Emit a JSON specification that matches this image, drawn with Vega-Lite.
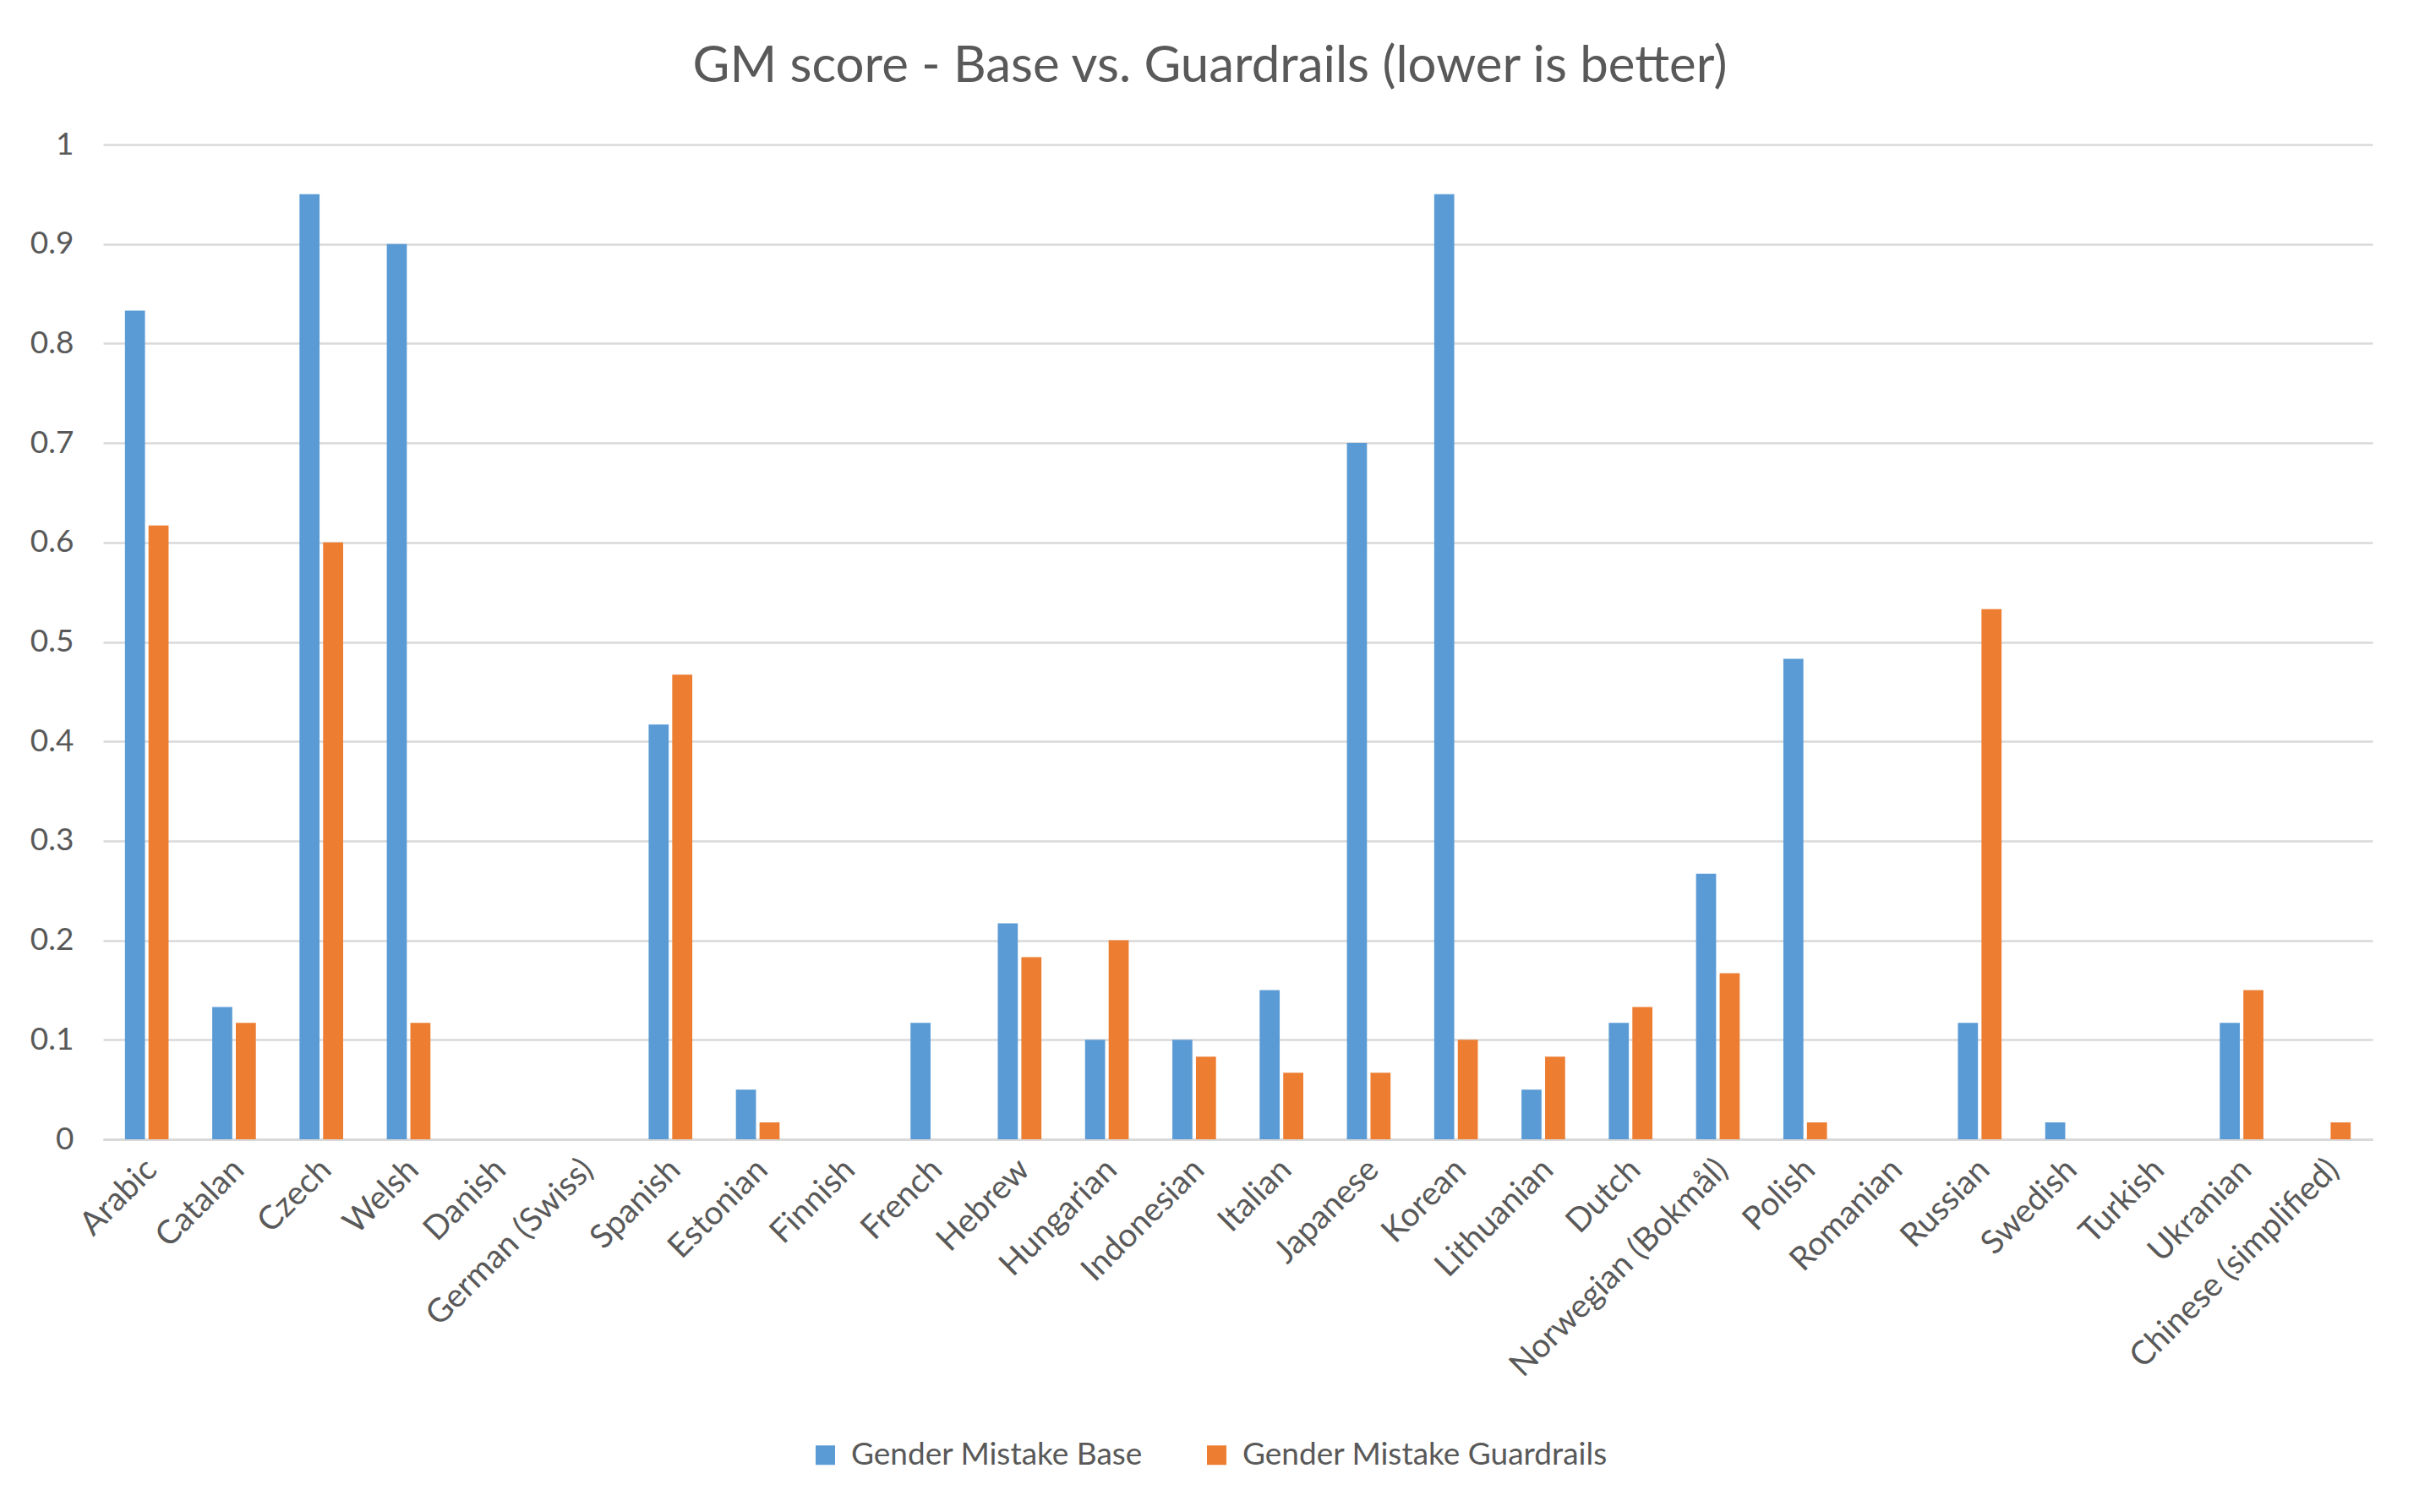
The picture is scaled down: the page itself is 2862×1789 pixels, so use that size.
{
  "$schema": "https://vega.github.io/schema/vega-lite/v6.json",
  "autosize": {"type": "none"},
  "padding": {"left": 122, "top": 171, "right": 55, "bottom": 441},
  "width": 2685,
  "height": 1177,
  "background": "#ffffff",
  "title": {
    "text": "GM score - Base vs. Guardrails (lower is better)",
    "font": "Lato",
    "fontSize": 60,
    "fontWeight": "normal",
    "color": "#595959",
    "anchor": "middle",
    "frame": "group",
    "dx": -33,
    "baseline": "alphabetic",
    "offset": -5
  },
  "data": {
    "values": [
      {"language": "Arabic", "series": "Gender Mistake Base", "score": 0.833},
      {"language": "Arabic", "series": "Gender Mistake Guardrails", "score": 0.617},
      {"language": "Catalan", "series": "Gender Mistake Base", "score": 0.133},
      {"language": "Catalan", "series": "Gender Mistake Guardrails", "score": 0.117},
      {"language": "Czech", "series": "Gender Mistake Base", "score": 0.95},
      {"language": "Czech", "series": "Gender Mistake Guardrails", "score": 0.6},
      {"language": "Welsh", "series": "Gender Mistake Base", "score": 0.9},
      {"language": "Welsh", "series": "Gender Mistake Guardrails", "score": 0.117},
      {"language": "Danish", "series": "Gender Mistake Base", "score": 0},
      {"language": "Danish", "series": "Gender Mistake Guardrails", "score": 0},
      {"language": "German (Swiss)", "series": "Gender Mistake Base", "score": 0},
      {"language": "German (Swiss)", "series": "Gender Mistake Guardrails", "score": 0},
      {"language": "Spanish", "series": "Gender Mistake Base", "score": 0.417},
      {"language": "Spanish", "series": "Gender Mistake Guardrails", "score": 0.467},
      {"language": "Estonian", "series": "Gender Mistake Base", "score": 0.05},
      {"language": "Estonian", "series": "Gender Mistake Guardrails", "score": 0.017},
      {"language": "Finnish", "series": "Gender Mistake Base", "score": 0},
      {"language": "Finnish", "series": "Gender Mistake Guardrails", "score": 0},
      {"language": "French", "series": "Gender Mistake Base", "score": 0.117},
      {"language": "French", "series": "Gender Mistake Guardrails", "score": 0},
      {"language": "Hebrew", "series": "Gender Mistake Base", "score": 0.217},
      {"language": "Hebrew", "series": "Gender Mistake Guardrails", "score": 0.183},
      {"language": "Hungarian", "series": "Gender Mistake Base", "score": 0.1},
      {"language": "Hungarian", "series": "Gender Mistake Guardrails", "score": 0.2},
      {"language": "Indonesian", "series": "Gender Mistake Base", "score": 0.1},
      {"language": "Indonesian", "series": "Gender Mistake Guardrails", "score": 0.083},
      {"language": "Italian", "series": "Gender Mistake Base", "score": 0.15},
      {"language": "Italian", "series": "Gender Mistake Guardrails", "score": 0.067},
      {"language": "Japanese", "series": "Gender Mistake Base", "score": 0.7},
      {"language": "Japanese", "series": "Gender Mistake Guardrails", "score": 0.067},
      {"language": "Korean", "series": "Gender Mistake Base", "score": 0.95},
      {"language": "Korean", "series": "Gender Mistake Guardrails", "score": 0.1},
      {"language": "Lithuanian", "series": "Gender Mistake Base", "score": 0.05},
      {"language": "Lithuanian", "series": "Gender Mistake Guardrails", "score": 0.083},
      {"language": "Dutch", "series": "Gender Mistake Base", "score": 0.117},
      {"language": "Dutch", "series": "Gender Mistake Guardrails", "score": 0.133},
      {"language": "Norwegian (Bokmål)", "series": "Gender Mistake Base", "score": 0.267},
      {"language": "Norwegian (Bokmål)", "series": "Gender Mistake Guardrails", "score": 0.167},
      {"language": "Polish", "series": "Gender Mistake Base", "score": 0.483},
      {"language": "Polish", "series": "Gender Mistake Guardrails", "score": 0.017},
      {"language": "Romanian", "series": "Gender Mistake Base", "score": 0},
      {"language": "Romanian", "series": "Gender Mistake Guardrails", "score": 0},
      {"language": "Russian", "series": "Gender Mistake Base", "score": 0.117},
      {"language": "Russian", "series": "Gender Mistake Guardrails", "score": 0.533},
      {"language": "Swedish", "series": "Gender Mistake Base", "score": 0.017},
      {"language": "Swedish", "series": "Gender Mistake Guardrails", "score": 0},
      {"language": "Turkish", "series": "Gender Mistake Base", "score": 0},
      {"language": "Turkish", "series": "Gender Mistake Guardrails", "score": 0},
      {"language": "Ukranian", "series": "Gender Mistake Base", "score": 0.117},
      {"language": "Ukranian", "series": "Gender Mistake Guardrails", "score": 0.15},
      {"language": "Chinese (simplified)", "series": "Gender Mistake Base", "score": 0},
      {"language": "Chinese (simplified)", "series": "Gender Mistake Guardrails", "score": 0.017}
    ]
  },
  "mark": {"type": "bar"},
  "encoding": {
    "x": {
      "field": "language",
      "type": "nominal",
      "sort": null,
      "scale": {"paddingInner": 0.5, "paddingOuter": 0.25},
      "axis": {
        "title": null,
        "labelAngle": -45,
        "labelAlign": "right",
        "labelBaseline": "top",
        "labelPadding": 16,
        "labelOffset": -8,
        "labelFont": "Lato",
        "labelFontSize": 39,
        "labelColor": "#595959",
        "labelLimit": 1000,
        "ticks": false,
        "domainColor": "#D9D9D9",
        "domainWidth": 3,
        "grid": false
      }
    },
    "xOffset": {
      "field": "series",
      "type": "nominal",
      "scale": {"paddingInner": 0.15}
    },
    "y": {
      "field": "score",
      "type": "quantitative",
      "scale": {"domain": [0, 1], "nice": false},
      "axis": {
        "title": null,
        "values": [0, 0.1, 0.2, 0.3, 0.4, 0.5, 0.6, 0.7, 0.8, 0.9, 1],
        "format": "~g",
        "domain": false,
        "ticks": false,
        "grid": true,
        "gridColor": "#D9D9D9",
        "gridWidth": 2.5,
        "labelPadding": 35,
        "labelFont": "Lato",
        "labelFontSize": 37,
        "labelColor": "#595959"
      }
    },
    "color": {
      "field": "series",
      "type": "nominal",
      "scale": {"range": ["#5B9BD5", "#ED7D31"]},
      "legend": {
        "title": null,
        "orient": "none",
        "direction": "horizontal",
        "legendX": 836,
        "legendY": 1532,
        "symbolType": "square",
        "symbolSize": 529,
        "symbolStrokeWidth": 0,
        "labelFont": "Lato",
        "labelFontSize": 37,
        "labelColor": "#595959",
        "labelLimit": 1000,
        "labelOffset": 12,
        "columnPadding": 68
      }
    }
  },
  "config": {"view": {"stroke": null}}
}
